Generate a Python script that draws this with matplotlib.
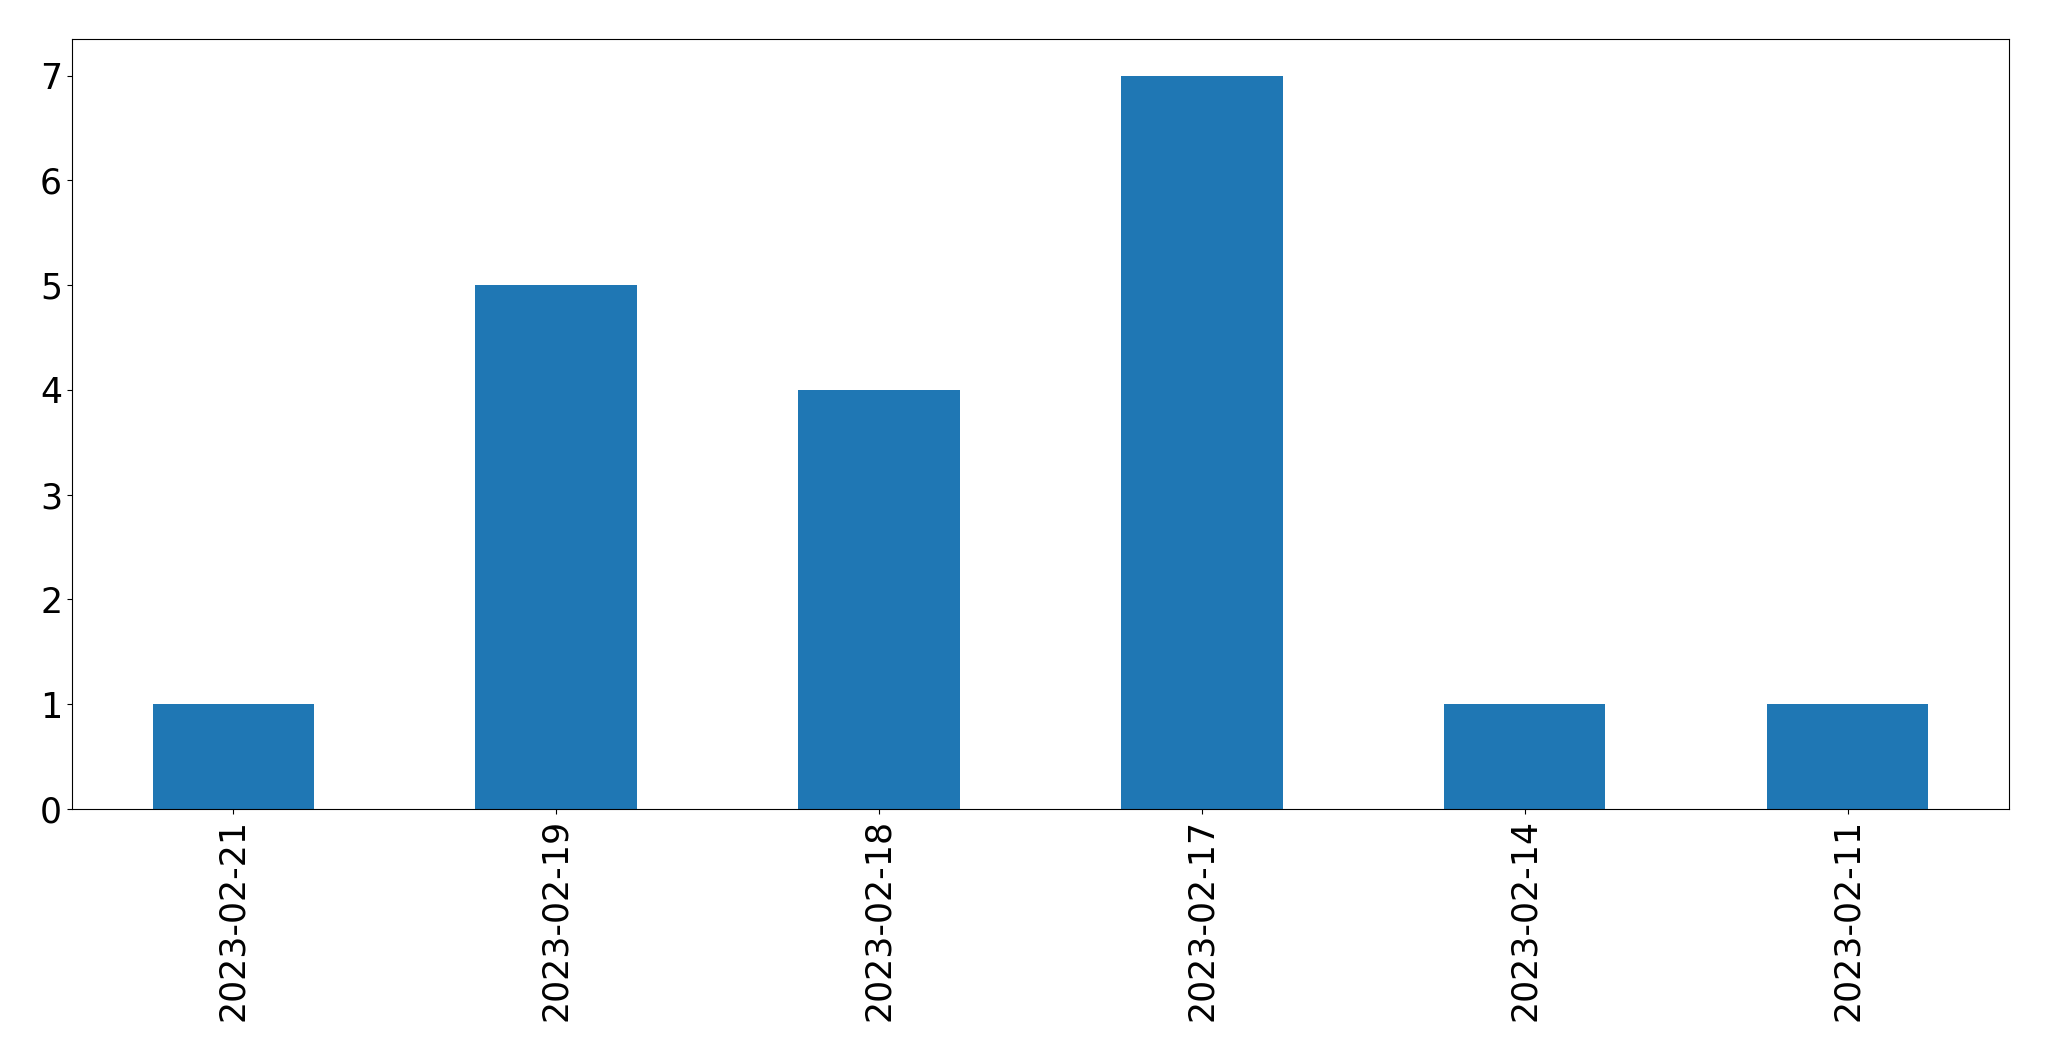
import pandas as pd
import matplotlib
matplotlib.use('Agg')
import matplotlib.pyplot as plt

# Counts per date
dates = ['2023-02-21', '2023-02-19', '2023-02-18', '2023-02-17', '2023-02-14', '2023-02-11']
counts = [1, 5, 4, 7, 1, 1]

s = pd.Series(counts, index=dates)

fig = plt.figure(figsize=(20.49, 10.61), dpi=100)
ax = fig.add_subplot(111)
s.plot(kind='bar', ax=ax, color='#1f77b4', fontsize=25)

fig.subplots_adjust(left=0.0351, right=0.9805, top=0.9632, bottom=0.2375)
plt.savefig('out.png', dpi=100)
